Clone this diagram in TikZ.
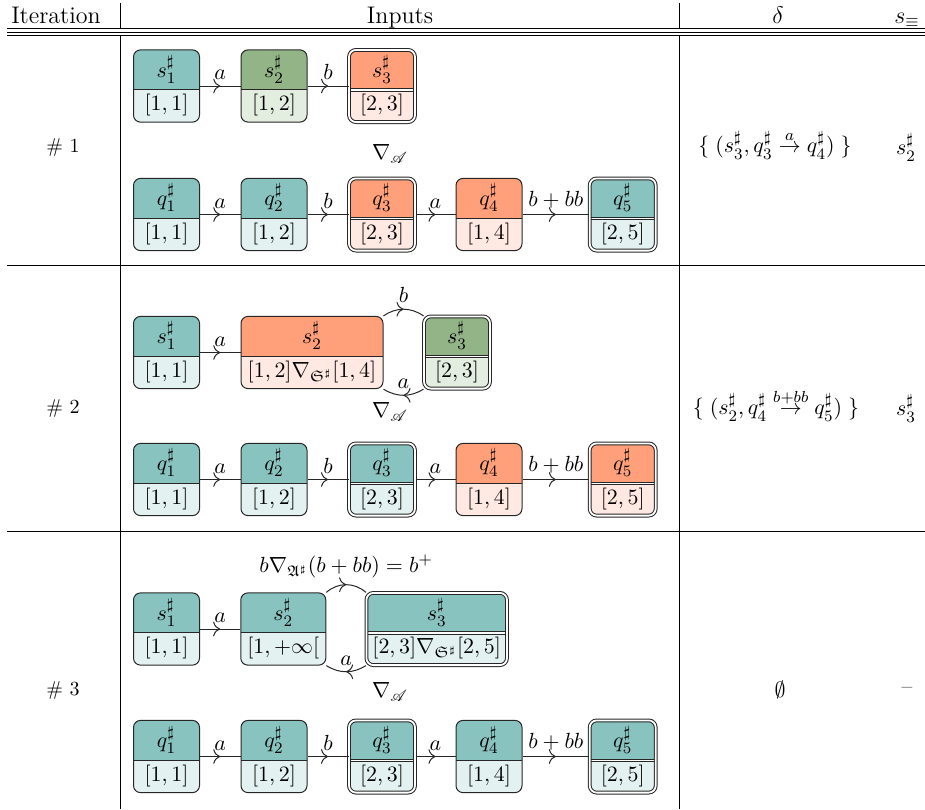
\documentclass[tikz,border=0pt]{standalone}
\usepackage{amsmath,amssymb,mathrsfs}
\usetikzlibrary{positioning,arrows.meta,decorations.markings}

\definecolor{tealA}{RGB}{136,195,192}
\definecolor{tealB}{RGB}{227,242,241}
\definecolor{grnA}{RGB}{146,180,135}
\definecolor{grnB}{RGB}{227,237,224}
\definecolor{orgA}{RGB}{255,160,122}
\definecolor{orgB}{RGB}{255,233,226}

\begin{document}
\begin{tikzpicture}[
    x=0.5pt, y=-0.5pt,
    font=\fontsize{11}{13}\selectfont,
    st/.style={
        draw=black!85,
        line width=0.5pt,
        rounded corners=3.5pt,
        minimum width=33pt,
        inner xsep=3pt,
        inner ysep=0pt,
        text height=30.4pt,
        text depth=5.7pt,
        fill=#1B,
        path picture={
            \fill[#1A, sharp corners] (path picture bounding box.north west)
                rectangle ([yshift=-20pt]path picture bounding box.north east);
            \draw[stdiv] ([yshift=-20pt]path picture bounding box.north west)
                -- ([yshift=-20pt]path picture bounding box.north east);
        }
    },
    stdiv/.style={draw=black!85, line width=0.5pt, sharp corners},
    acc/.style={
        double,
        double distance=0.9pt,
        stdiv/.style={draw=black!85, line width=0.5pt, sharp corners,
            double, double distance=0.9pt}
    },
    sttop/.style={anchor=center, yshift=-10pt, inner sep=0pt,
        text height=, text depth=},
    trans/.style={
        draw=black!85,
        line width=0.5pt,
        postaction={decorate},
        decoration={markings,
            mark=at position 0.5 with {\arrow{To[scale=1.3]}}}
    },
    lbl/.style={above, inner sep=3pt},
    hdr/.style={font=\fontsize{12}{14}\selectfont, anchor=base},
    itno/.style={font=\fontsize{10}{12}\selectfont},
    rule/.style={line width=0.5pt}
]
\useasboundingbox (0,0) rectangle (925,809);

% --- table ---
\node[hdr] (hiter)  at (56,23)  {Iteration};
\node[hdr] (hinput) at (400,23) {Inputs};
\node[hdr] (hdelta) at (778,23) {$\delta$};
\node[hdr] (hseq)   at (907,23) {$s_{\equiv}$};

\draw[rule] (7,28.5) -- (925,28.5);
\draw[rule] (7,32.5) -- (925,32.5);
\draw[rule] (7,35) -- (925,35);
\draw[rule] (7,265) -- (925,265);
\draw[rule] (7,531.5) -- (925,531.5);
\draw[rule] (120,3) -- (120,28.5);
\draw[rule] (120,35) -- (120,809);
\draw[rule] (679,3) -- (679,28.5);
\draw[rule] (679,35) -- (679,809);

% --- iteration 1 ---
\node[itno] (it1) at (63,147) {\# 1};

\node[st=teal, label={[sttop]90:$s^\sharp_1$}] (r1s1) at (166.5,86) {$[1,1]$};
\node[st=grn, label={[sttop]90:$s^\sharp_2$}] (r1s2) at (274,86) {$[1,2]$};
\node[st=org, acc, label={[sttop]90:$s^\sharp_3$}] (r1s3) at (382,86) {$[2,3]$};

\draw[trans] (r1s1) -- node[lbl] {$a$} (r1s2);
\draw[trans] (r1s2) -- node[lbl] {$b$} (r1s3);

\node (r1nab) at (390,154) {$\nabla_{\mathscr{A}}$};

\node[st=teal, label={[sttop]90:$q^\sharp_1$}] (r1q1) at (166.5,214.5) {$[1,1]$};
\node[st=teal, label={[sttop]90:$q^\sharp_2$}] (r1q2) at (274,214.5) {$[1,2]$};
\node[st=org, acc, label={[sttop]90:$q^\sharp_3$}] (r1q3) at (382,214.5) {$[2,3]$};
\node[st=org, label={[sttop]90:$q^\sharp_4$}] (r1q4) at (489,214.5) {$[1,4]$};
\node[st=teal, acc, label={[sttop]90:$q^\sharp_5$}] (r1q5) at (622.7,214.5) {$[2,5]$};

\draw[trans] (r1q1) -- node[lbl] {$a$} (r1q2);
\draw[trans] (r1q2) -- node[lbl] {$b$} (r1q3);
\draw[trans] (r1q3) -- node[lbl] {$a$} (r1q4);
\draw[trans] (r1q4) -- node[lbl] {$b+bb$} (r1q5);

\node (r1delta) at (775,145) {$\{\;(s^\sharp_3, q^\sharp_3 \stackrel{a}{\to} q^\sharp_4)\;\}$};
\node (r1seq) at (906,147) {$s^\sharp_2$};

% --- iteration 2 ---
\node[itno] (it2) at (63,408) {\# 2};

\node[st=teal, label={[sttop]90:$s^\sharp_1$}] (r2s1) at (166.5,352.5) {$[1,1]$};
\node[st=org, minimum width=71pt, label={[sttop]90:$s^\sharp_2$}] (r2s2) at (312,352.5)
    {$[1,2]\nabla_{\mathfrak{S}^\sharp}[1,4]$};
\node[st=grn, acc, label={[sttop]90:$s^\sharp_3$}] (r2s3) at (457,352.5) {$[2,3]$};

\draw[trans] (r2s1) -- node[lbl] {$a$} (r2s2);
\draw[trans] (r2s2.north east) to[bend left=35] node[lbl] {$b$} (r2s3.north west);
\draw[trans] (r2s3.south west) to[bend left=32] node[lbl] {$a$} (r2s2.south east);

\node (r2nab) at (390,412) {$\nabla_{\mathscr{A}}$};

\node[st=teal, label={[sttop]90:$q^\sharp_1$}] (r2q1) at (166.5,479.5) {$[1,1]$};
\node[st=teal, label={[sttop]90:$q^\sharp_2$}] (r2q2) at (274,479.5) {$[1,2]$};
\node[st=teal, acc, label={[sttop]90:$q^\sharp_3$}] (r2q3) at (382,479.5) {$[2,3]$};
\node[st=org, label={[sttop]90:$q^\sharp_4$}] (r2q4) at (489,479.5) {$[1,4]$};
\node[st=org, acc, label={[sttop]90:$q^\sharp_5$}] (r2q5) at (622.7,479.5) {$[2,5]$};

\draw[trans] (r2q1) -- node[lbl] {$a$} (r2q2);
\draw[trans] (r2q2) -- node[lbl] {$b$} (r2q3);
\draw[trans] (r2q3) -- node[lbl] {$a$} (r2q4);
\draw[trans] (r2q4) -- node[lbl] {$b+bb$} (r2q5);

\node (r2delta) at (776,405) {$\{\;(s^\sharp_2, q^\sharp_4 \stackrel{b+bb}{\to} q^\sharp_5)\;\}$};
\node (r2seq) at (906,408) {$s^\sharp_3$};

% --- iteration 3 ---
\node[itno] (it3) at (63,690) {\# 3};

\node[st=teal, label={[sttop]90:$s^\sharp_1$}] (r3s1) at (166.5,629) {$[1,1]$};
\node[st=teal, minimum width=42.5pt, label={[sttop]90:$s^\sharp_2$}] (r3s2) at (283.3,629)
    {$[1,+\infty[$};
\node[st=teal, acc, minimum width=69.5pt, label={[sttop]90:$s^\sharp_3$}] (r3s3) at (436.7,629)
    {$[2,3]\nabla_{\mathfrak{S}^\sharp}[2,5]$};

\draw[trans] (r3s1) -- node[lbl] {$a$} (r3s2);
\draw[trans] (r3s2.north east) to[bend left=42]
    node[lbl] {$b\nabla_{\mathfrak{A}^\sharp}(b+bb) = b^+$} (r3s3.north west);
\draw[trans] (r3s3.south west) to[bend left=32] node[lbl] {$a$} (r3s2.south east);

\node (r3nab) at (390,692) {$\nabla_{\mathscr{A}}$};

\node[st=teal, label={[sttop]90:$q^\sharp_1$}] (r3q1) at (166.5,756.5) {$[1,1]$};
\node[st=teal, label={[sttop]90:$q^\sharp_2$}] (r3q2) at (274,756.5) {$[1,2]$};
\node[st=teal, acc, label={[sttop]90:$q^\sharp_3$}] (r3q3) at (382,756.5) {$[2,3]$};
\node[st=teal, label={[sttop]90:$q^\sharp_4$}] (r3q4) at (489,756.5) {$[1,4]$};
\node[st=teal, acc, label={[sttop]90:$q^\sharp_5$}] (r3q5) at (622.7,756.5) {$[2,5]$};

\draw[trans] (r3q1) -- node[lbl] {$a$} (r3q2);
\draw[trans] (r3q2) -- node[lbl] {$b$} (r3q3);
\draw[trans] (r3q3) -- node[lbl] {$a$} (r3q4);
\draw[trans] (r3q4) -- node[lbl] {$b+bb$} (r3q5);

\node (r3delta) at (780,690) {$\emptyset$};
\node (r3seq) at (907,690) {--};

\end{tikzpicture}
\end{document}
